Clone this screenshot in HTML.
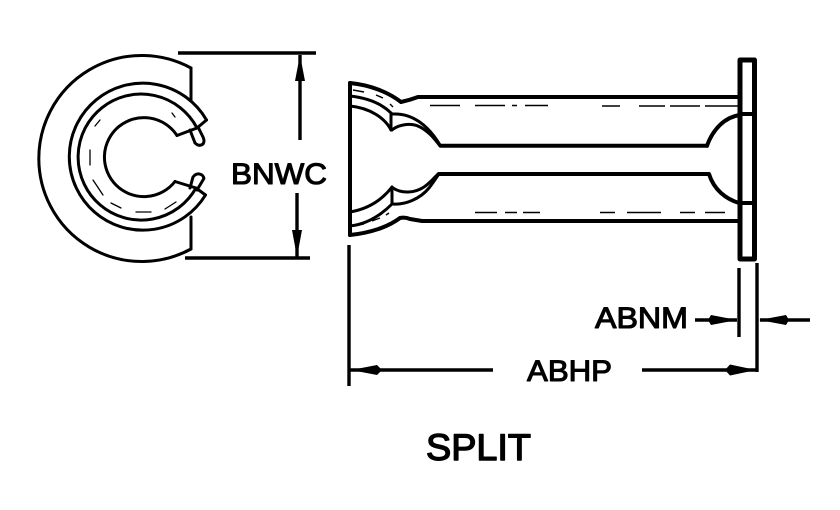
<!DOCTYPE html>
<html><head><meta charset="utf-8"><style>
html,body{margin:0;padding:0;background:#fff}
svg{display:block}
text{font-family:"Liberation Sans",sans-serif;fill:#000;stroke:#000;stroke-width:1.1}
</style></head><body>
<svg width="840" height="510" viewBox="0 0 840 510" fill="none" stroke="#000" stroke-linecap="round" stroke-linejoin="round">
<!-- Left view -->
<g stroke-width="3">
<path d="M191 68 A103 103 0 1 0 191 249"/>
<path d="M191 68 V100"/>
<path d="M191 217 V249"/>
<path d="M206.500 120 A73.500 73.500 0 1 0 205.500 195"/>
<path d="M197 128 A63 63 0 1 0 196 188"/>
<path d="M177 135.500 A39.500 39.500 0 1 0 175 181.500"/>
<path d="M177 135.500 L197 128 L206.500 120"/>
<path d="M175 181.500 L196 188 L205.500 195"/>
<path d="M190 130 L195 143 Q199 147 203 144 Q205 141 203 137 L198 127"/>
<path d="M190 188 L193 177 Q197 172 202 175 Q205 178 203 180 L197 190"/>
</g>
<g stroke-width="1.3">
<path d="M90 150 V165" />
<path d="M93 180 L103 195"/>
<path d="M111 203 L121 208"/>
<path d="M136 212 H151"/>
<path d="M165 209 L176 202"/>
<path d="M95 126 L100 120"/>
<path d="M172 113 L175 117"/>
</g>
<!-- BNWC dimension -->
<g stroke-width="3.4" stroke-linecap="butt">
<path d="M178 53 H316"/>
<path d="M185 258 H310"/>
<path d="M300 55 V140"/>
<path d="M297 193 V258"/>
</g>
<path d="M300 55 L305 81 H295 Z" fill="#000" stroke="none"/>
<path d="M297 257 L302 230 H292 Z" fill="#000" stroke="none"/>
<text x="231" y="184" font-size="30" textLength="96" lengthAdjust="spacingAndGlyphs">BNWC</text>
<!-- Right view -->
<g stroke-width="4">
<path d="M350 83 V235" />
<path d="M350 83 C370 85 388 92 401 102 Q410 100 418 97 H739"/>
<path d="M350 235 C370 233 388 227 400 218 Q405 217 410 219 L422 221 H739"/>
<path d="M441 145.700 H707"/>
<path d="M439 174 H708"/>
<path d="M707 145.700 C713 129 725 117 740 115"/>
<path d="M709 174 C714 190 726 199 739 203"/>
<path d="M740 60 H754.500 V259 H740 Z" stroke-width="5"/>
<path d="M740 114 H755"/>
<path d="M739 203 H755"/>
</g>
<g stroke-width="3">
<path d="M350 96 C368 98 382 104 391 113"/>
<path d="M350 106 C370 108 385 118 391 130"/>
<path d="M391 113 V130"/>
<path d="M393 114 C412 113 428 125 440 145"/>
<path d="M392 130 C398 125 410 122 420 127 C428 131 434 138 440 146"/>
<path d="M350 212 C368 209 382 200 392 187"/>
<path d="M350 226 C368 224 382 214 392 204"/>
<path d="M392 187 V204"/>
<path d="M393 188 C402 194 415 193 424 187 C430 183 434 178 438 174" />
<path d="M393 204 C405 205 420 199 429 188 C433 183 436 178 439 174"/>
</g>
<g stroke-width="1.4" stroke-linecap="butt">
<path d="M430 105.500 H460 M475 105.500 H505 M512 105.500 H517 M525 105.500 H548 M602 106 H620 M639 106 H665 M670 106 H700 M705 106 H738"/>
<path d="M475 212.500 H497 M505 212.500 H517 M523 212.500 H540 M600 212.500 H615 M627 212.500 H661 M680 212.500 H695 M705 212.500 H725"/>
<path d="M740.500 117 V150 M740.500 158 V190 M740.500 195 V200"/>
<path d="M353 90 L364 92 M376 95 L383 98 M390 104 L393 107"/>
<path d="M355 226 L364 224 M372 221 L380 218 M386 215 L389 213"/>
</g>
<!-- ABNM / ABHP dimensions -->
<g stroke-width="3.4" stroke-linecap="butt">
<path d="M739 268 V337"/>
<path d="M757 263 V372"/>
<path d="M349 245 V386"/>
<path d="M695 320 H737"/>
<path d="M760 320 H810"/>
<path d="M642 370 H756"/>
<path d="M350 370 H493"/>
</g>
<g fill="#000" stroke="none">
<path d="M737 320 L711 315 L708 320 L711 325 Z"/>
<path d="M759 320 L786 315 L789 320 L786 325 Z"/>
<path d="M756 370 L730 364.500 L725 370 L730 375.500 Z"/>
<path d="M351 370 L377 365 L382 370 L377 375 Z"/>
</g>
<text x="595" y="328" font-size="30" textLength="93" lengthAdjust="spacingAndGlyphs">ABNM</text>
<text x="527" y="381" font-size="30" textLength="85" lengthAdjust="spacingAndGlyphs">ABHP</text>
<text x="426" y="460" font-size="37" textLength="105" lengthAdjust="spacingAndGlyphs" style="stroke-width:1.4">SPLIT</text>
</svg>
</body></html>
